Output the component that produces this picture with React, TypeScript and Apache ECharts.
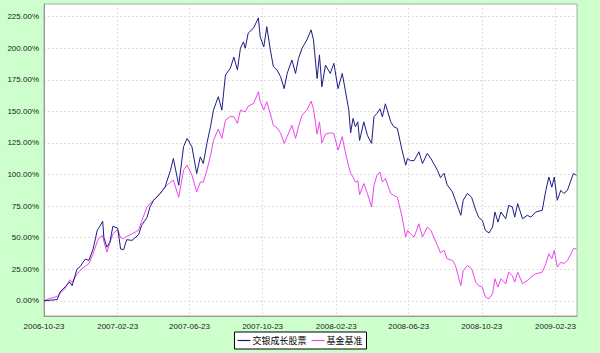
import React, { useEffect, useRef } from "react";
import * as echarts from "echarts";

const dates: string[] = [
  "2006-10-23", "2006-11-02", "2006-11-14", "2006-11-19", "2006-11-27", "2006-12-05", "2006-12-09", "2006-12-17",
  "2006-12-22", "2006-12-31", "2007-01-06", "2007-01-13", "2007-01-20", "2007-01-23", "2007-01-29", "2007-01-31",
  "2007-02-05", "2007-02-10", "2007-02-15", "2007-02-23", "2007-02-28", "2007-03-05", "2007-03-10", "2007-03-19",
  "2007-03-30", "2007-04-04", "2007-04-13", "2007-04-18", "2007-04-24", "2007-05-05", "2007-05-13", "2007-05-22",
  "2007-05-27", "2007-06-05", "2007-06-13", "2007-06-19", "2007-06-27", "2007-07-05", "2007-07-11", "2007-07-16",
  "2007-07-22", "2007-07-28", "2007-08-02", "2007-08-10", "2007-08-16", "2007-08-22", "2007-08-30", "2007-09-05",
  "2007-09-11", "2007-09-16", "2007-09-21", "2007-09-24", "2007-09-29", "2007-10-08", "2007-10-16", "2007-10-19",
  "2007-10-25", "2007-10-30", "2007-11-05", "2007-11-10", "2007-11-16", "2007-11-22", "2007-11-28", "2007-12-03",
  "2007-12-11", "2007-12-17", "2007-12-22", "2007-12-28", "2008-01-05", "2008-01-12", "2008-01-16", "2008-01-22",
  "2008-01-26", "2008-01-30", "2008-02-05", "2008-02-13", "2008-02-19", "2008-02-26", "2008-03-04", "2008-03-09",
  "2008-03-15", "2008-03-18", "2008-03-22", "2008-03-26", "2008-03-30", "2008-04-02", "2008-04-09", "2008-04-15",
  "2008-04-22", "2008-04-26", "2008-05-01", "2008-05-06", "2008-05-10", "2008-05-15", "2008-05-24", "2008-05-29",
  "2008-06-04", "2008-06-12", "2008-06-18", "2008-06-21", "2008-06-26", "2008-07-02", "2008-07-10", "2008-07-16",
  "2008-07-24", "2008-07-30", "2008-08-10", "2008-08-15", "2008-08-21", "2008-08-26", "2008-09-04", "2008-09-09",
  "2008-09-18", "2008-09-22", "2008-09-29", "2008-10-06", "2008-10-13", "2008-10-18", "2008-10-24", "2008-10-29",
  "2008-11-04", "2008-11-10", "2008-11-14", "2008-11-19", "2008-11-24", "2008-12-02", "2008-12-07", "2008-12-13",
  "2008-12-17", "2008-12-22", "2008-12-30", "2009-01-07", "2009-01-13", "2009-01-21", "2009-02-01", "2009-02-07",
  "2009-02-12", "2009-02-17", "2009-02-21", "2009-02-26", "2009-03-04", "2009-03-09", "2009-03-15", "2009-03-21",
  "2009-03-25", "2009-03-30",
];

const fundValues: number[] = [
  0, 0.5, 1, 7, 11, 15, 12, 25,
  27, 33, 32, 41, 56, 58, 63, 50,
  42.5, 46.5, 59, 57.6, 41, 40.5, 48.4, 47.9,
  52.4, 59.8, 66, 74.3, 79.6, 85, 90, 103,
  112.7, 91.5, 122, 128.6, 122, 100.8, 114, 108.7,
  124.6, 137.8, 151, 161.6, 151, 178.8, 184, 193,
  182.8, 200, 205, 200, 212, 216, 224, 209,
  201, 217, 198.6, 185.4, 182.8, 177.5, 168, 180,
  190.7, 180, 192, 200, 206.6, 214.5, 206.6, 176,
  194.7, 169.5, 186.7, 180, 188, 168, 180, 167,
  151, 133, 144.4, 137.8, 141.7, 127, 141.7, 131,
  124.6, 145.7, 148.4, 152, 145.7, 156, 141.7, 137.8,
  136.5, 119, 107.4, 112.7, 111, 111, 118, 108.7,
  116.7, 112.7, 103.4, 97.5, 101, 92, 86.2, 79.6,
  67.7, 79.6, 85, 82, 71.7, 66, 63.7, 55.8,
  53.7, 58.4, 70.3, 62.4, 70.3, 65, 75.6, 74.3,
  66.3, 77, 65, 67.7, 66.3, 70.3, 71.7, 87.5,
  98, 90, 98, 79.6, 87.5, 85, 87.5, 95.5,
  100.8, 99.4,
];

const benchmarkValues: number[] = [
  0, 2, 3.4, 6, 9.5, 16.7, 14.8, 21,
  24, 27.5, 29.4, 37.3, 47, 50, 51.8, 47,
  38.6, 46, 53, 56.5, 50, 49.2, 51, 53,
  56, 63, 74.3, 77, 79.6, 85, 90, 94,
  95.5, 82, 103.4, 107.4, 99.4, 86.2, 94, 94,
  103.4, 115, 127, 136, 128.6, 143, 146, 145.7,
  140.5, 151, 150, 149.7, 154, 156.3, 165.5, 158,
  151, 157.6, 148, 139, 137, 133, 124.6, 130,
  139, 128.6, 138, 147, 151, 158, 152, 132,
  141.7, 125, 132, 133, 132.5, 119.3, 130, 118,
  106, 101, 98, 94, 95, 84, 92.9, 85,
  74.3, 91.5, 99.4, 102, 94, 96.8, 85, 83.6,
  82, 66.3, 50.5, 55.8, 53, 50.5, 61, 50.5,
  58.4, 55.8, 43.9, 38, 40, 33.3, 32, 28,
  12, 24, 28, 25.4, 14.8, 12, 10.8, 2.9,
  1.6, 5.6, 17.5, 10.8, 17.5, 13.5, 22.7, 20,
  14.8, 22.7, 13.5, 16, 18.7, 21.4, 22.7, 29.4,
  37.3, 33.3, 40, 26.7, 30.6, 29.4, 32, 37.3,
  41.3, 41.3,
];

const xTickDates: string[] = [
  "2006-10-23", "2007-02-23", "2007-06-23", "2007-10-23",
  "2008-02-23", "2008-06-23", "2008-10-23", "2009-02-23",
];
const yTickValues: number[] = [0, 25, 50, 75, 100, 125, 150, 175, 200, 225];
const seriesNames: string[] = ["交银成长股票", "基金基准"];

function ts(s: string): number {
  const [y, m, d] = s.split("-").map(Number);
  return Date.UTC(y, m - 1, d);
}
function fmtDate(v: number): string {
  const d = new Date(v);
  const p = (n: number) => (n < 10 ? "0" + n : "" + n);
  return d.getUTCFullYear() + "-" + p(d.getUTCMonth() + 1) + "-" + p(d.getUTCDate());
}

export default function App() {
  const ref = useRef<HTMLDivElement>(null);
  useEffect(() => {
    if (!ref.current) return;
    const chart = echarts.init(ref.current, undefined, { renderer: "svg" });
    const fundData = dates.map((d, i) => [ts(d), fundValues[i]]);
    const benchData = dates.map((d, i) => [ts(d), benchmarkValues[i]]);
    const xCustom = xTickDates.map(ts);
    chart.setOption({
      animation: false,
      backgroundColor: "#ccffcc",
      grid: {
        left: 44,
        right: 23,
        top: 4,
        bottom: 37,
        show: true,
        backgroundColor: "#ffffff",
        borderColor: "#aaaaaa",
        borderWidth: 1,
      },
      legend: {
        left: "center",
        top: 332,
        data: seriesNames,
        icon: "rect",
        backgroundColor: "#ffffff",
        borderColor: "#000000",
        borderWidth: 1,
        borderRadius: 0,
        padding: [4, 4, 4, 3],
        itemWidth: 13,
        itemHeight: 1.2,
        itemGap: 5,
        textStyle: {
          fontSize: 9,
          color: "#000",
          fontFamily: "'Noto Sans CJK SC', sans-serif",
          padding: [0, 0, 0, -3],
        },
      },
      xAxis: {
        type: "value",
        min: ts("2006-10-23"),
        max: ts("2009-03-31"),
        axisLine: { show: true, onZero: false, lineStyle: { color: "#999999" } },
        axisTick: { show: false, customValues: xCustom },
        axisLabel: {
          customValues: xCustom,
          formatter: (v: number) => fmtDate(v),
          fontSize: 8,
          color: "#222",
          fontFamily: "'Liberation Sans', Arial, sans-serif",
          margin: 6,
          showMinLabel: true,
          showMaxLabel: true,
        },
        splitLine: { show: true, lineStyle: { color: "#dddddd", type: [2, 2], width: 1 } },
      },
      yAxis: {
        type: "value",
        min: -12,
        max: 235,
        axisLine: { show: true, onZero: false, lineStyle: { color: "#999999" } },
        axisTick: { show: false, customValues: yTickValues },
        axisLabel: {
          customValues: yTickValues,
          formatter: (v: number) => v.toFixed(2) + "%",
          fontSize: 8,
          color: "#222",
          fontFamily: "'Liberation Sans', Arial, sans-serif",
          margin: 5,
        },
        splitLine: { show: true, lineStyle: { color: "#dddddd", type: [2, 2], width: 1 } },
      },
      series: [
        {
          name: seriesNames[0],
          type: "line",
          data: fundData,
          symbol: "none",
          lineStyle: { color: "#1c1c84", width: 1 },
          itemStyle: { color: "#1c1c84" },
          z: 3,
        },
        {
          name: seriesNames[1],
          type: "line",
          data: benchData,
          symbol: "none",
          lineStyle: { color: "#ee44ee", width: 1 },
          itemStyle: { color: "#ee44ee" },
          z: 2,
        },
      ],
    });
    return () => chart.dispose();
  }, []);
  return <div ref={ref} style={{ width: 600, height: 353, position: "absolute", left: 0, top: 0 }} />;
}
